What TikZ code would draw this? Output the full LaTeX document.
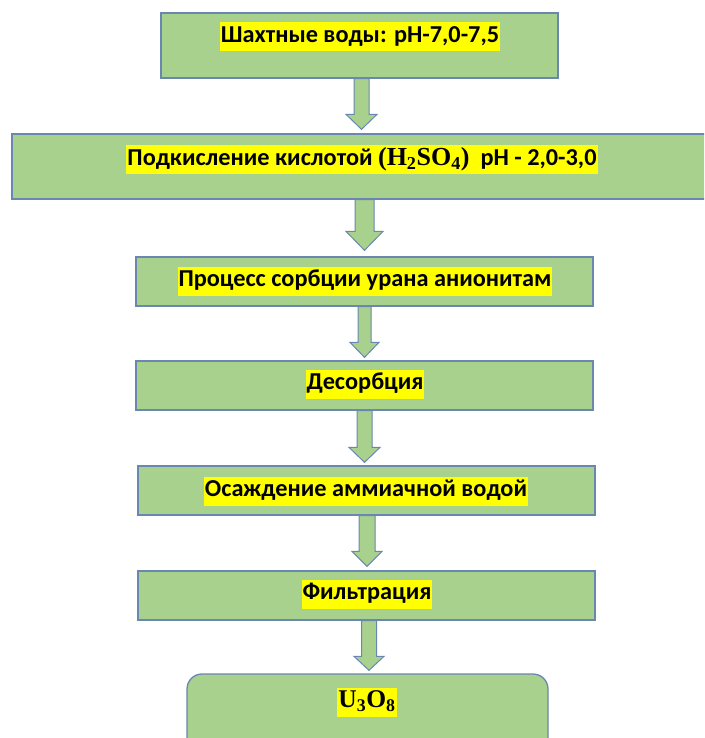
\documentclass[tikz,border=0pt]{standalone}
\usepackage{fontspec}
\setmainfont{Carlito}
\newfontfamily\tnr{Liberation Serif}
\usetikzlibrary{calc}
\definecolor{boxgreen}{RGB}{169,209,142}
\definecolor{boxedge}{RGB}{105,135,175}
\definecolor{hlyellow}{RGB}{255,255,0}
\tikzset{
  box/.style={rectangle, draw=boxedge, fill=boxgreen, line width=1.3pt, inner sep=0pt},
  hltext/.style={fill=hlyellow, inner xsep=1pt, inner ysep=3pt, text height=17pt, text depth=6pt,
    font=\bfseries\fontsize{24.3}{28}\selectfont, text=black},
  barrow/.style n args={3}{draw=boxedge, fill=boxgreen, line width=1pt, to path={
    let \p1=(\tikztostart), \p2=(\tikztotarget) in
    (\x1-#1,\y1) -- (\x1-#1,\y2+#3) -- (\x1-#2,\y2+#3) -- (\x1,\y2) -- (\x1+#2,\y2+#3)
    -- (\x1+#1,\y2+#3) -- (\x1+#1,\y1) -- cycle}}
}
\begin{document}
\begin{tikzpicture}[x=1pt,y=-1pt]
\useasboundingbox (0,0) rectangle (704,738);
\clip (0,0) rectangle (704,738);
\fill[white] (0,0) rectangle (704,738);
% boxes
\node[box, minimum width=397pt, minimum height=65pt] (b1) at (359.5,45.5) {};
\node[box, minimum width=694pt, minimum height=65pt] (b2) at (359,166.5) {};
\node[box, minimum width=457pt, minimum height=49pt] (b3) at (364.5,281.5) {};
\node[box, minimum width=457pt, minimum height=49pt] (b4) at (364.5,385.5) {};
\node[box, minimum width=457pt, minimum height=49pt] (b5) at (366.5,490.5) {};
\node[box, minimum width=457pt, minimum height=49pt] (b6) at (366.5,595.5) {};
\node[box, rounded corners=15pt, minimum width=361pt, minimum height=100pt] (b7) at (367.5,724) {};
% texts
\node[hltext] (t1) at (360,37) {Шахтные воды: pH-7,0-7,5};
\node[hltext] (t2) at (362,160) {Подкисление кислотой {\tnr\fontsize{26}{28}\selectfont(H\textsubscript{2}SO\textsubscript{4})}\ \ pH - 2,0-3,0};
\node[hltext] (t3) at (365,281) {Процесс сорбции урана анионитам};
\node[hltext] (t4) at (365,384) {Десорбция};
\node[hltext] (t5) at (366,491) {Осаждение аммиачной водой};
\node[hltext] (t6) at (367,594) {Фильтрация};
\node[hltext, font=\tnr\bfseries\fontsize{25.5}{28}\selectfont] (t7) at (367,702) {U\textsubscript{3}O\textsubscript{8}};
% arrows
\draw[barrow={7.5pt}{15.5pt}{15pt}] ([xshift=2pt]b1.south) to ([xshift=2pt,yshift=4pt]b2.north);
\draw[barrow={9.5pt}{18.5pt}{19pt}] ([xshift=5.5pt]b2.south) to ([xshift=0pt,yshift=6pt]b3.north);
\draw[barrow={6.5pt}{14.5pt}{15pt}] ([xshift=0pt]b3.south) to ([yshift=3pt]b4.north);
\draw[barrow={7.5pt}{15.5pt}{15pt}] ([xshift=0pt]b4.south) to ([yshift=3pt]b5.north);
\draw[barrow={8pt}{15pt}{15pt}] ([xshift=0.5pt]b5.south) to ([yshift=4pt]b6.north);
\draw[barrow={7.5pt}{15pt}{14pt}] ([xshift=2.5pt]b6.south) to ([yshift=3pt]b7.north);
\end{tikzpicture}
\end{document}
